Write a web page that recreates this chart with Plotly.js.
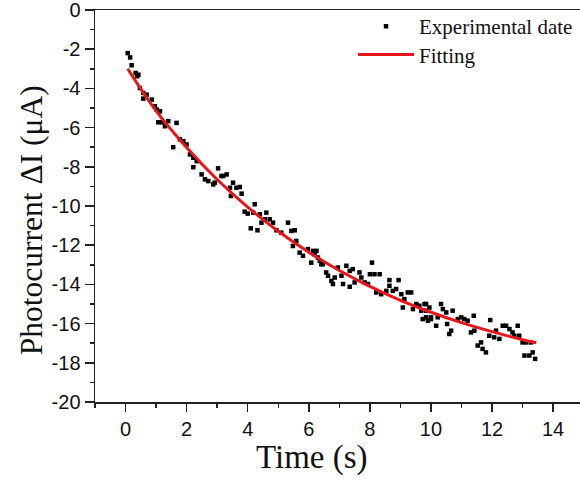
<!DOCTYPE html>
<html>
<head>
<meta charset="utf-8">
<script src="https://cdn.plot.ly/plotly-3.0.1.min.js"></script>
<style>html,body{margin:0;padding:0;background:#fff;}#chart{width:580px;height:481px;}</style>
</head>
<body>
<div id="chart"></div>
<script>
const expT = [0.07,0.15,0.2,0.33,0.42,0.38,0.47,0.58,0.69,0.58,0.86,0.96,1.02,1.13,1.07,1.18,1.29,1.4,1.67,1.56,1.78,1.89,2.0,2.11,2.22,2.33,2.22,2.49,2.6,2.71,2.87,3.03,3.14,
2.92,3.2,3.31,3.52,3.42,3.63,3.74,3.8,3.45,4.23,3.9,4.0,4.18,4.4,4.61,4.56,4.72,4.83,4.45,4.1,4.32,4.94,5.1,5.32,5.43,5.54,5.59,5.48,5.7,5.81,5.97,6.14,6.19,6.08,6.3,6.41,
6.25,6.36,6.46,6.57,6.63,6.74,6.79,6.85,6.95,7.07,7.23,7.34,7.44,7.12,7.34,7.5,7.66,7.72,7.83,7.94,8.07,8.0,8.15,8.32,8.21,8.37,8.54,8.64,8.64,8.75,8.86,8.94,9.03,9.13,9.24,9.35,9.08,9.41,9.52,9.62,9.79,9.68,9.84,9.73,9.9,10.0,
9.84,9.95,9.84,10.0,10.17,10.22,10.33,10.39,10.5,10.53,10.66,10.6,10.71,10.88,10.99,11.09,11.2,11.4,11.31,11.42,11.53,11.64,11.69,11.8,11.94,11.91,12.07,12.13,12.24,12.35,12.46,12.57,12.67,12.84,12.73,12.89,13.0,13.11,13.27,13.06,13.22,13.33,13.41];
const expY = [-2.20,-2.42,-2.82,-3.21,-3.30,-3.38,-3.98,-4.23,-4.32,-4.52,-4.57,-4.91,-5.08,-5.17,-5.73,-5.73,-5.93,-5.67,-5.76,-7.0,-6.6,-6.69,-6.86,-7.37,-7.54,-7.71,-8.02,-8.39,-8.64,-8.73,-8.9,-8.08,-8.47,
-8.81,-8.47,-8.39,-8.81,-9.07,-9.07,-9.03,-9.37,-9.49,-9.91,-10.29,-10.39,-10.34,-10.42,-10.34,-10.68,-10.68,-10.85,-10.85,-11.14,-11.24,-11.24,-11.36,-10.85,-11.27,-11.24,-11.78,-12.04,-12.38,-12.54,-12.2,-12.29,-12.46,-12.89,-12.63,-12.97,
-12.29,-12.8,-12.97,-13.39,-13.56,-13.82,-13.98,-13.65,-13.14,-13.56,-13.05,-13.31,-13.22,-13.98,-14.12,-13.9,-13.39,-13.65,-13.9,-13.98,-12.89,-13.48,-13.48,-13.48,-14.41,-14.5,-14.33,-14.07,-13.78,-14.33,-14.24,-13.78,-14.5,-14.75,-14.41,-14.41,-15.18,-15.26,-15.0,-15.09,-15.0,-15.34,-15.34,-15.77,-15.85,-15.68,
-15.0,-15.18,-15.68,-15.77,-16.11,-15.68,-15.0,-15.26,-15.43,-16.02,-16.36,-16.53,-15.34,-15.77,-15.68,-15.77,-15.85,-15.6,-16.45,-16.36,-17.12,-16.96,-17.29,-17.47,-15.82,-16.62,-16.7,-16.36,-16.78,-16.11,-16.11,-16.28,-16.45,-16.11,-16.62,-16.62,-16.96,-16.96,-16.96,-17.63,-17.63,-17.47,-17.8];

// Fitting curve
const fitT = [0.07,1,2,3,4,5,6,7,8,9,10,11,12,13,13.45];
const fitY = [-3.0,-5.15,-7.02,-8.65,-10.06,-11.29,-12.36,-13.29,-14.10,-14.81,-15.42,-15.95,-16.41,-16.82,-16.98];

const yTicks = [0,-2,-4,-6,-8,-10,-12,-14,-16,-18,-20];
const yTickText = ['0','-2','-4','-6','-8','-10','-12','-14','-16','-18','-20'];
const xTicks = [0,2,4,6,8,10,12,14];

const data = [
  {x: expT, y: expY, mode: 'markers', type: 'scatter', name: 'Experimental date', legend: 'legend',
   marker: {symbol: 'square', size: 4.5, color: '#000'}},
  {x: fitT, y: fitY, mode: 'lines', type: 'scatter', name: 'Fitting', legend: 'legend2',
   line: {color: '#e8151b', width: 3, shape: 'spline'}}
];

const legendFont = {family: 'Liberation Serif', size: 21, color: '#111'};

const layout = {
  width: 580, height: 481,
  margin: {l: 95, r: 0, t: 10, b: 79},
  paper_bgcolor: '#fff', plot_bgcolor: '#fff',
  showlegend: true,
  legend: {x: 0.532, y: 1.01, xanchor: 'left', yanchor: 'top', bgcolor: 'rgba(0,0,0,0)',
           font: legendFont, itemwidth: 56},
  legend2: {x: 0.532, y: 0.938, xanchor: 'left', yanchor: 'top', bgcolor: 'rgba(0,0,0,0)',
           font: legendFont, itemwidth: 56},
  xaxis: {range: [-1, 14.88], showgrid: false, zeroline: false, showline: true, linecolor: '#222', linewidth: 1.5,
          mirror: true, ticks: 'outside', ticklen: 8, tickwidth: 1.5, tickcolor: '#222',
          tickvals: xTicks, tickfont: {family: 'Liberation Sans', size: 20, color: '#111'},
          minor: {dtick: 1, ticks: 'outside', ticklen: 4, tickwidth: 1.5, tickcolor: '#222', showgrid: false}},
  yaxis: {range: [-20, 0], showgrid: false, zeroline: false, showline: true, linecolor: '#222', linewidth: 1.5,
          ticks: 'outside', ticklen: 9, tickwidth: 1.5, tickcolor: '#222', ticklabeloverflow: 'allow',
          tickvals: yTicks, ticktext: yTickText, tickfont: {family: 'Liberation Sans', size: 20, color: '#111'},
          minor: {dtick: 1, ticks: 'outside', ticklen: 4, tickwidth: 1.5, tickcolor: '#222', showgrid: false}},
  annotations: [
    {text: 'Time (s)', xref: 'paper', yref: 'paper', x: (312-95)/485, y: -0.142, xanchor: 'center', yanchor: 'middle',
     showarrow: false, font: {family: 'Liberation Serif', size: 33, color: '#111'}},
    {text: 'Photocurrent ΔI (μA)', xref: 'paper', yref: 'paper', x: -0.131, y: 0.465, xanchor: 'center', yanchor: 'middle',
     textangle: -90, showarrow: false, font: {family: 'Liberation Serif', size: 31.5, color: '#111'}}
  ]
};

Plotly.newPlot('chart', data, layout, {displayModeBar: false, staticPlot: true});
</script>
</body>
</html>
